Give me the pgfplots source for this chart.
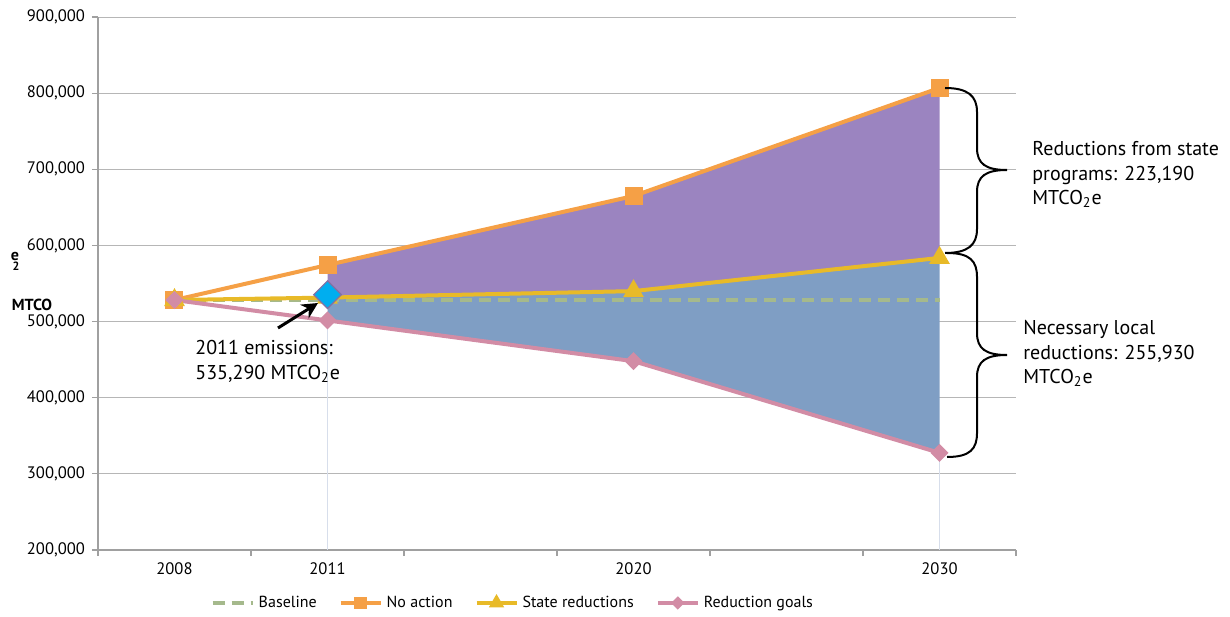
\documentclass[border=0pt]{standalone}
\usepackage{pgfplots}
\pgfplotsset{compat=1.18}
\usepackage{fontspec}
\setmainfont{PT Sans}
\usetikzlibrary{arrows.meta}
\definecolor{cOrange}{RGB}{245,160,70}
\definecolor{cYellow}{RGB}{232,186,40}
\definecolor{cPink}{RGB}{210,140,165}
\definecolor{cPurple}{RGB}{155,132,192}
\definecolor{cBlue}{RGB}{127,158,196}
\definecolor{cBase}{RGB}{165,185,140}
\definecolor{cCyan}{RGB}{0,174,239}
\definecolor{cGrid}{RGB}{182,182,182}
\definecolor{cAxis}{RGB}{160,160,160}
\definecolor{cFaint}{RGB}{215,222,235}
\begin{document}
\begin{tikzpicture}
\useasboundingbox (-49pt,-33pt) rectangle (566pt,275pt);
\begin{axis}[
  scale only axis, width=459pt, height=266.5pt,
  at={(0,0)}, anchor=south west,
  xmin=-0.5, xmax=5.5, ymin=200000, ymax=900000,
  axis x line=bottom, axis y line=left,
  axis line style={draw=cAxis, line width=0.6pt, -},
  xtick={-0.5,0.5,1.5,2.5,3.5,4.5,5.5},
  xticklabels={,,,,,,},
  extra x ticks={0,1,3,5},
  extra x tick labels={2008,2011,2020,2030},
  extra x tick style={major tick length=0pt, grid=none, xticklabel style={yshift=-3pt}},
  ytick={200000,300000,400000,500000,600000,700000,800000,900000},
  ymajorgrids, grid style={draw=cGrid, line width=0.5pt},
  tick align=outside, major tick length=3pt,
  tick style={draw=cAxis, line width=0.6pt},
  tick label style={font=\fontsize{8.3}{9}\selectfont},
  scaled y ticks=false,
  yticklabel style={/pgf/number format/.cd, fixed, 1000 sep={,}},
  /pgf/number format/assume math mode=true,
  clip=false,
  legend style={at={(0.453,-0.0994)}, anchor=center, draw=none, fill=none,
    legend columns=4, font=\fontsize{8}{9}\selectfont,
    /tikz/every even column/.append style={column sep=9pt}},
  legend image code/.code={\draw[mark repeat=2,mark phase=2, /tikz/every mark/.append style={scale=0.62}] plot coordinates {(0pt,0pt)(10pt,0pt)(20pt,0pt)};},
]
% faint helper lines
\addplot[forget plot, draw=cFaint, line width=0.5pt, mark=none] coordinates {(1,200000)(1,501500)};
\addplot[forget plot, draw=cFaint, line width=0.5pt, mark=none] coordinates {(5,200000)(5,327600)};
% areas
\addplot[forget plot, draw=none, fill=cPurple, mark=none] coordinates {(1,574300)(3,664900)(5,806800)(5,583600)(3,540000)(1,531500)};
\addplot[forget plot, draw=none, fill=cBlue, mark=none] coordinates {(1,531500)(3,540000)(5,583600)(5,327600)(3,448000)(1,501500)};
% series
\addplot[cBase, line width=2pt, dash pattern=on 6pt off 3.5pt, mark=none] coordinates {(0,528000)(1,528000)(3,528000)(5,528000)};
\addlegendentry{Baseline}
\addplot[cOrange, line width=2pt, mark=square*, mark size=3.5pt, mark options={solid}] coordinates {(0,528300)(1,574300)(3,664900)(5,806800)};
\addlegendentry{No action}
\addplot[cYellow, line width=2pt, mark=triangle*, mark size=4pt, mark options={solid}] coordinates {(0,528300)(1,531500)(3,540000)(5,583600)};
\addlegendentry{State reductions}
\addplot[cPink, line width=2pt, mark=square*, mark size=2.2pt, mark options={solid, rotate=45}] coordinates {(0,528300)(1,501500)(3,448000)(5,327600)};
\addlegendentry{Reduction goals}
\addplot[forget plot, only marks, mark=square*, mark size=4.9pt, mark options={solid, rotate=45, fill=cCyan, draw=cPurple!85!black, line width=0.6pt}] coordinates {(1,535290)};
\end{axis}
\begin{scope}[shift={(-49pt,275pt)}, x=0.5pt, y=-0.5pt]
% y label
\node[font=\fontsize{8}{9}\selectfont\bfseries] at (32,305) {MTCO};
\node[font=\fontsize{8}{9}\selectfont\bfseries] at (15,256) {e};
\node[font=\fontsize{6}{7}\selectfont\bfseries] at (16,266) {2};
% arrow
\draw[line width=1.5pt, -{Stealth[length=8pt,width=8pt]}] (278,328) -- (318,303);
\node[anchor=north west, inner sep=0pt, align=left, font=\fontsize{10}{12.5}\selectfont] at (195,340) {2011 emissions:\\535,290 MTCO\textsubscript{2}e};
% braces
\draw[line width=1pt] (945,88) .. controls (968,88) and (977,96) .. (977,112) -- (977,148) .. controls (977,164) and (986,170) .. (1007,170) .. controls (986,170) and (977,176) .. (977,192) -- (977,229) .. controls (977,245) and (968,253) .. (945,253);
\draw[line width=1pt] (947,253) .. controls (970,253) and (977,261) .. (977,277) -- (977,333) .. controls (977,349) and (986,355) .. (1007,355) .. controls (986,355) and (977,361) .. (977,377) -- (977,433) .. controls (977,449) and (970,457) .. (947,457);
\node[anchor=north west, inner sep=0pt, align=left, font=\fontsize{10}{12.25}\selectfont] at (1032,141) {Reductions from state\\programs: 223,190\\MTCO\textsubscript{2}e};
\node[anchor=north west, inner sep=0pt, align=left, font=\fontsize{10}{12.25}\selectfont] at (1023,320) {Necessary local\\reductions: 255,930\\MTCO\textsubscript{2}e};
\end{scope}
\end{tikzpicture}
\end{document}
